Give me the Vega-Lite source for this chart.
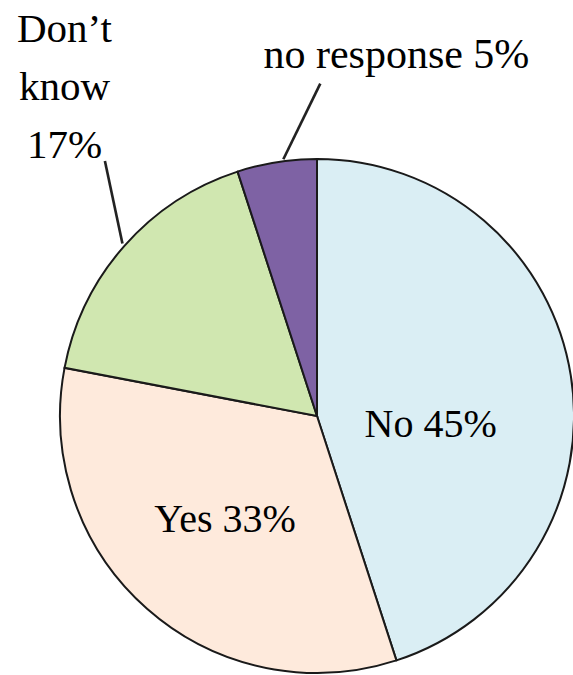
{
  "$schema": "https://vega.github.io/schema/vega-lite/v6.json",
  "width": 514,
  "height": 514,
  "autosize": "none",
  "padding": {"left": 60, "top": 159, "right": 0, "bottom": 2},
  "background": "white",
  "config": {"view": {"stroke": null}},
  "data": {
    "values": [
      {"category": "No", "value": 45, "order": 1, "label": "No 45%"},
      {"category": "Yes", "value": 33, "order": 2, "label": "Yes 33%"},
      {"category": "Don’t know", "value": 17, "order": 3, "label": ["Don’t", "know", "17%"]},
      {"category": "no response", "value": 5, "order": 4, "label": "no response 5%"}
    ]
  },
  "encoding": {
    "theta": {"field": "value", "type": "quantitative", "stack": true},
    "order": {"field": "order", "type": "quantitative"}
  },
  "layer": [
    {
      "mark": {"type": "arc", "stroke": "#1a1a1a", "strokeWidth": 2},
      "encoding": {
        "color": {
          "field": "category",
          "type": "nominal",
          "scale": {
            "domain": ["No", "Yes", "Don’t know", "no response"],
            "range": ["#DAEEF4", "#FEEADC", "#D0E7B0", "#7E62A4"]
          },
          "legend": null
        }
      }
    },
    {
      "mark": {"type": "text", "radius": 113, "dx": 2, "dy": 27, "font": "Liberation Serif", "fontSize": 40, "color": "#000"},
      "encoding": {"text": {"condition": {"test": "datum.category == 'No'", "field": "label"}, "value": ""}}
    },
    {
      "mark": {"type": "text", "radius": 139, "font": "Liberation Serif", "fontSize": 40, "color": "#000"},
      "encoding": {"text": {"condition": {"test": "datum.category == 'Yes'", "field": "label"}, "value": ""}}
    },
    {
      "mark": {"type": "text", "radius": 330, "dx": -5, "dy": -168, "font": "Liberation Serif", "fontSize": 41, "lineHeight": 58, "color": "#000"},
      "encoding": {"text": {"condition": {"test": "datum.category == 'Don’t know'", "field": "label"}, "value": ""}}
    },
    {
      "mark": {"type": "text", "radius": 330, "dx": 131, "dy": -35, "font": "Liberation Serif", "fontSize": 42, "color": "#000"},
      "encoding": {"text": {"condition": {"test": "datum.category == 'no response'", "value": "no response 5%"}, "value": ""}}
    },
    {
      "mark": {"type": "text", "radius": 293, "dx": 25, "dy": -19, "angle": 26, "font": "Roboto", "fontWeight": 100, "fontSize": 100, "color": "#222"},
      "encoding": {"text": {"condition": {"test": "datum.category == 'no response'", "value": "|"}, "value": ""}}
    },
    {
      "mark": {"type": "text", "radius": 293, "dx": 20, "dy": -17, "angle": 348, "font": "Roboto", "fontWeight": 100, "fontSize": 100, "color": "#222"},
      "encoding": {"text": {"condition": {"test": "datum.category == 'Don’t know'", "value": "|"}, "value": ""}}
    }
  ]
}
